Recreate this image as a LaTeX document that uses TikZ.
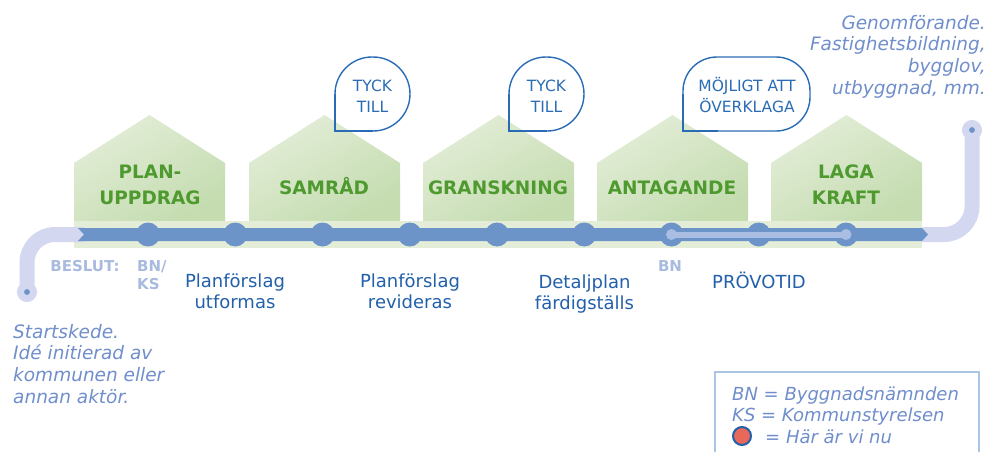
\documentclass[tikz,border=0pt]{standalone}
\usepackage{fontspec}
\setmainfont{DejaVu Sans}
\usepackage{tikz}
\usetikzlibrary{shapes}
\usetikzlibrary{positioning}
\definecolor{gronljus}{HTML}{E3EDD7}
\definecolor{gronmork}{HTML}{C4DCB0}
\definecolor{gronremsa}{HTML}{E3EDD8}
\definecolor{grontext}{HTML}{4E9A2F}
\definecolor{linje}{HTML}{6D94C9}
\definecolor{ljuslinje}{HTML}{A9BEE2}
\definecolor{sparfarg}{HTML}{D3D8F0}
\definecolor{bla}{HTML}{2A6BB5}
\definecolor{morkbla}{HTML}{2360AA}
\definecolor{blek}{HTML}{A8BBDF}
\definecolor{kursiv}{HTML}{6F8ECB}
\definecolor{ramfarg}{HTML}{A9C6E6}
\definecolor{rod}{HTML}{E8685A}
\tikzstyle{hus}=[top color=gronljus, middle color=gronljus, bottom color=gronmork, shading angle=30]
\tikzstyle{husnamn}=[text=grontext, font=\bfseries\fontsize{18.5}{26}\selectfont,
align=center, inner sep=0pt]
\tikzstyle{bubbla}=[draw=bla, line width=1.4pt]
\tikzstyle{bubbeltext}=[text=bla, font=\fontsize{15.5}{21}\selectfont,
align=center, inner sep=0pt]
\tikzstyle{punkt}=[circle, fill=linje, minimum size=24pt, inner sep=0pt]
\tikzstyle{provpunkt}=[circle, fill=ljuslinje, minimum size=11pt, inner sep=0pt]
\tikzstyle{spar}=[draw=sparfarg, line width=15pt, rounded corners=28pt]
\tikzstyle{provlinje}=[draw=ljuslinje, line width=6pt]
\tikzstyle{slutpunkt}=[circle, fill=linje, draw=sparfarg, line width=7pt,
minimum size=13pt, inner sep=0pt]
\tikzstyle{steg}=[text=morkbla, font=\fontsize{18}{21}\selectfont, align=center, inner sep=0pt]
\tikzstyle{beslut}=[text=blek, font=\bfseries\fontsize{15}{18}\selectfont, inner sep=0pt]
\tikzstyle{kursivtext}=[text=kursiv, font=\itshape\fontsize{18.5}{21.7}\selectfont, inner sep=0pt]
\tikzstyle{ram}=[draw=ramfarg, line width=1.2pt]
\tikzstyle{malpunkt}=[circle, fill=rod, draw=morkbla, line width=2pt, minimum size=18pt, inner sep=0pt]

\begin{document}
\begin{tikzpicture}[x=1pt,y=-1pt]
\useasboundingbox (0,0) rectangle (987,452);
%hus
\path[hus] (74,221) -- (74,163) -- (149.5,115) -- (225,163) -- (225,221) -- cycle;
\path[hus] (249,221) -- (249,163) -- (324.5,115) -- (400,163) -- (400,221) -- cycle;
\path[hus] (423,221) -- (423,163) -- (498.5,115) -- (574,163) -- (574,221) -- cycle;
\path[hus] (597,221) -- (597,163) -- (672.5,115) -- (748,163) -- (748,221) -- cycle;
\path[hus] (771,221) -- (771,163) -- (846.5,115) -- (922,163) -- (922,221) -- cycle;
\fill[gronremsa] (74,221) rectangle (922,248);
\node[husnamn] (h1) at (150,185) {PLAN-\\UPPDRAG};
\node[husnamn] (h2) at (324,186) {SAMRÅD};
\node[husnamn] (h3) at (498,188) {GRANSKNING};
\node[husnamn] (h4) at (672,188) {ANTAGANDE};
\node[husnamn] (h5) at (846,185) {LAGA\\KRAFT};

%bubblor
\draw[bubbla, rounded corners=37pt] (335,95) -- (335,57) -- (410,57) -- (410,131) -- (372,131);
\draw[bubbla] (335,94) -- (335,131) -- (373,131);
\draw[bubbla, rounded corners=37pt] (509,95) -- (509,57) -- (584,57) -- (584,131) -- (546,131);
\draw[bubbla] (509,94) -- (509,131) -- (547,131);
\draw[bubbla, rounded corners=34pt] (683,95) -- (683,57) -- (810,57) -- (810,131) -- (717,131);
\draw[bubbla] (683,94) -- (683,131) -- (718,131);
\node[bubbeltext] (b1) at (372.5,96.5) {TYCK\\TILL};
\node[bubbeltext] (b2) at (546.5,96.5) {TYCK\\TILL};
\node[bubbeltext] (b3) at (747,95) {MÖJLIGT ATT\\ÖVERKLAGA};

%spar
\coordinate (start) at (84,234.5);
\coordinate (slut) at (922,234.5);
\coordinate (sp) at (27,292);
\coordinate (ep) at (972,130);
\draw[spar] (start) -| (sp);
\draw[spar] (slut) -| (ep);
\node[slutpunkt] (s) at (sp) {};
\node[slutpunkt] (e) at (ep) {};
\fill[linje] (78,228) -- (922,228) -- (928,234.5) -- (922,241) -- (78,241) -- (84,234.5) -- cycle;

\node[punkt] (d1) at (148,234.5) {};
\node[punkt] (d2) at (235.25,234.5) {};
\node[punkt] (d3) at (322.5,234.5) {};
\node[punkt] (d4) at (409.75,234.5) {};
\node[punkt] (d5) at (497,234.5) {};
\node[punkt] (d6) at (584.25,234.5) {};
\node[punkt] (d7) at (671.5,234.5) {};
\node[punkt] (d8) at (758.75,234.5) {};
\node[punkt] (d9) at (846,234.5) {};
\draw[provlinje] (d7.center) -- (d9.center);
\node[provpunkt] (p7) at (d7) {};
\node[provpunkt] (p9) at (d9) {};

%texter
\node[beslut] (beslut) at (85,266) {BESLUT:};
\node[beslut, align=left, anchor=west] (bnks) at (137,275) {BN/\\KS};
\node[beslut] (bn) at (670,266) {BN};
\node[steg] (t1) at (235,291.5) {Planförslag\\utformas};
\node[steg] (t2) at (410,291.5) {Planförslag\\revideras};
\node[steg] (t3) at (584.5,294) {Detaljplan\\färdigställs};
\node[steg] (t4) at (759,280) {PRÖVOTID};
\node[kursivtext, align=left, anchor=north west] (ide) at (13,324)
{Startskede.\\Idé initierad av\\kommunen eller\\annan aktör.};
\node[kursivtext, align=right, anchor=north east] (gen) at (986,15)
{Genomförande.\\Fastighetsbildning,\\bygglov,\\utbyggnad, mm.};

%forklaring
\draw[ram] (715,453) |- (979,372) -- (979,453);
\node[kursivtext, font=\itshape\fontsize{18}{21.7}\selectfont, align=left, anchor=north west] (l1) at (732,386.3)
{BN = Byggnadsnämnden\\KS = Kommunstyrelsen};
\node[malpunkt] (nu) at (742,436) {};
\node[kursivtext, font=\itshape\fontsize{18}{21.7}\selectfont, anchor=base west] (l3) at (765,443) {= Här är vi nu};
\end{tikzpicture}
\end{document}
